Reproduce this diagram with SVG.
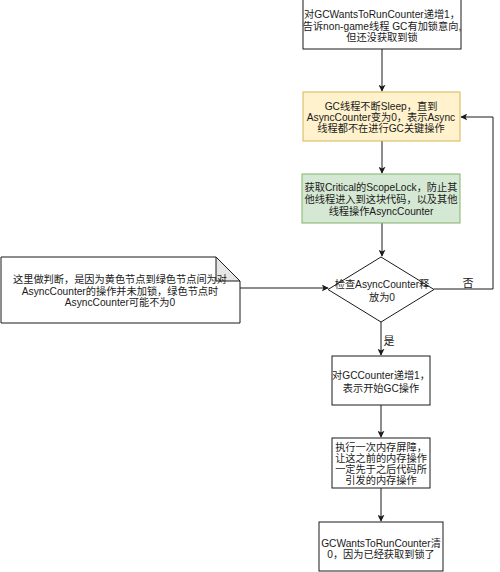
<svg xmlns="http://www.w3.org/2000/svg" width="500" height="572" viewBox="0 0 500 572">
<defs>
<style>
.box{fill:#ffffff;stroke:#1a1a1a;stroke-width:1}
.yellow{fill:#fff2cc;stroke:#d6b656;stroke-width:1}
.green{fill:#d5e8d4;stroke:#82b366;stroke-width:1}
.edge{fill:none;stroke:#1a1a1a;stroke-width:1}
text{font-family:"Liberation Sans","Noto Sans CJK SC",sans-serif;font-size:10.2px;fill:#1a1a1a;text-anchor:middle}
.lbl{font-size:11px}
</style>
<marker id="arr" viewBox="0 0 10 10" refX="9" refY="5" markerWidth="7" markerHeight="7" markerUnits="userSpaceOnUse" orient="auto">
<path d="M0,0 L10,5 L0,10 L2.5,5 Z" fill="#1a1a1a"/>
</marker>
</defs>
<g id="connectors">
<path class="edge" d="M382,49 L382,91" marker-end="url(#arr)"/>
<path class="edge" d="M382,141 L382,173" marker-end="url(#arr)"/>
<path class="edge" d="M382,223 L382,256" marker-end="url(#arr)"/>
<path class="edge" d="M434,289 L493,289 L493,117 L461,117" marker-end="url(#arr)"/>
<path class="edge" d="M240,288 L328,288" marker-end="url(#arr)"/>
<path class="edge" d="M381,322 L381,355" marker-end="url(#arr)"/>
<path class="edge" d="M381,405 L381,437" marker-end="url(#arr)"/>
<path class="edge" d="M381,488 L381,521" marker-end="url(#arr)"/>
<text class="lbl" x="468" y="287">否</text>
<text class="lbl" x="389" y="345">是</text>
</g>
<g id="n1">
<rect class="box" x="303" y="-1" width="158" height="50"/>
<text x="382" y="18">对GCWantsToRunCounter递增1，</text>
<text x="382" y="29.5">告诉non-game线程 GC有加锁意向,</text>
<text x="382" y="41">但还没获取到锁</text>
</g>
<g id="n2">
<rect class="yellow" x="303" y="92" width="157" height="49"/>
<text x="381" y="110">GC线程不断Sleep，直到</text>
<text x="381" y="121">AsyncCounter变为0，表示Async</text>
<text x="381" y="132">线程都不在进行GC关键操作</text>
</g>
<g id="n3">
<rect class="green" x="302" y="174" width="158" height="49"/>
<text x="381" y="190.5">获取Critical的ScopeLock，防止其</text>
<text x="381" y="202.5">他线程进入到这块代码，以及其他</text>
<text x="381" y="214.5">线程操作AsyncCounter</text>
</g>
<g id="n4">
<polygon class="box" points="381,257 434,289.5 381,322 328,289.5"/>
<text x="382" y="287.5">检查AsyncCounter释</text>
<text x="382" y="300.5">放为0</text>
</g>
<g id="note">
<path class="box" d="M1,257 L216,257 L240,281 L240,323 L1,323 Z"/>
<path d="M216,257 L216,281 L240,281 Z" fill="#e6e6e6" stroke="#1a1a1a" stroke-width="1"/>
<text x="120" y="283">这里做判断，是因为黄色节点到绿色节点间为对</text>
<text x="120" y="294.5">AsyncCounter的操作并未加锁，绿色节点时</text>
<text x="120" y="306">AsyncCounter可能不为0</text>
</g>
<g id="n5">
<rect class="box" x="332" y="356" width="98" height="49"/>
<text x="381" y="378.5">对GCCounter递增1，</text>
<text x="381" y="391.5">表示开始GC操作</text>
</g>
<g id="n6">
<rect class="box" x="332" y="438" width="98" height="50"/>
<text x="381" y="450.5">执行一次内存屏障，</text>
<text x="381" y="461.5">让这之前的内存操作</text>
<text x="381" y="472.5">一定先于之后代码所</text>
<text x="381" y="483.5">引发的内存操作</text>
</g>
<g id="n7">
<rect class="box" x="319" y="522" width="124" height="49"/>
<text x="381" y="546.5">GCWantsToRunCounter清</text>
<text x="381" y="557.5">0，因为已经获取到锁了</text>
</g>
</svg>
